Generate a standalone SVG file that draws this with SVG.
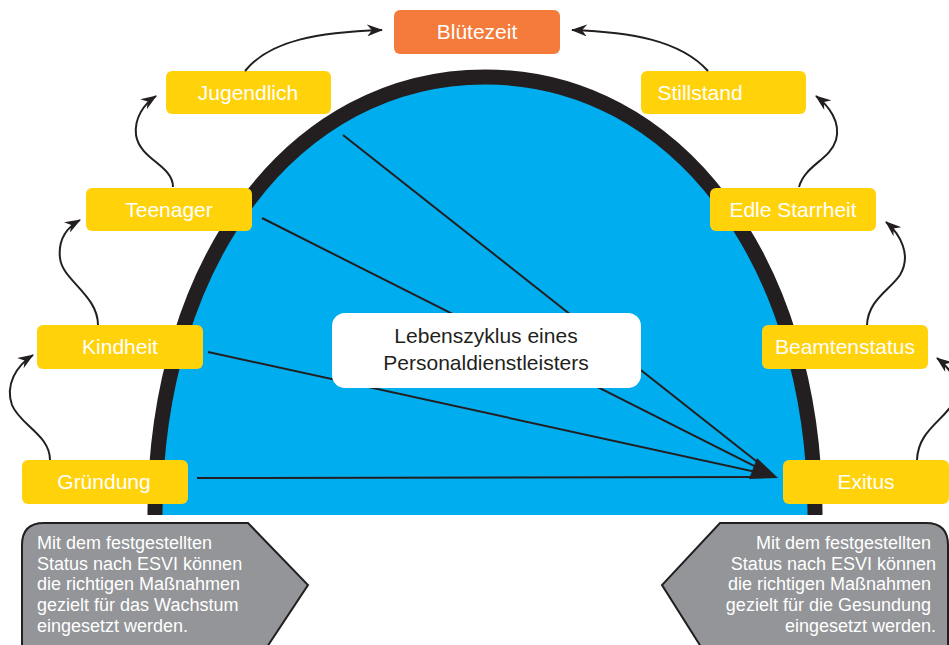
<svg xmlns="http://www.w3.org/2000/svg" width="949" height="645" viewBox="0 0 949 645">
<style>
.node rect{fill:#ffd20a}
.node text{fill:#ffffff;font-family:"Liberation Sans",Arial,sans-serif;font-size:21px;text-anchor:middle}
.conn{fill:none;stroke:#231f20;stroke-width:2}
.ray{stroke:#231f20;stroke-width:2}
.callout path{fill:#939598;stroke:#231f20;stroke-width:2}
.callout text{fill:#ffffff;font-family:"Liberation Sans",Arial,sans-serif;font-size:18px}
.center text{fill:#231f20;font-family:"Liberation Sans",Arial,sans-serif;font-size:21px;text-anchor:middle}
</style>
<defs>
<marker id="ah" viewBox="0 0 16 12" refX="15" refY="6" markerWidth="16" markerHeight="12" markerUnits="userSpaceOnUse" orient="auto">
<path d="M0,0 L16,6 L0,12 L5,6 Z" fill="#231f20"/>
</marker>
</defs>
<rect width="949" height="645" fill="#ffffff"/>
<g id="dome">
<path d="M155,515 C155,261 294,77 485,77 C676,77 815,261 815,515 Z" fill="#00aeef"/>
<path d="M155,515 C155,261 294,77 485,77 C676,77 815,261 815,515" fill="none" stroke="#231f20" stroke-width="15"/>
</g>
<g id="rays">
<line class="ray" x1="197" y1="478" x2="770" y2="477"/>
<line class="ray" x1="208" y1="352" x2="770" y2="475"/>
<line class="ray" x1="262" y1="218" x2="770" y2="474"/>
<line class="ray" x1="343" y1="135" x2="770" y2="472"/>
<polygon points="778,478 757,458 749,479" fill="#231f20"/>
</g>
<g id="center" class="center">
<rect x="332" y="313" width="309" height="75" rx="13" fill="#ffffff"/>
<text x="486" y="343">Lebenszyklus eines</text>
<text x="486" y="370">Personaldienstleisters</text>
</g>
<g id="n-bluetezeit" class="node"><rect x="394" y="10" width="166" height="44" rx="6" style="fill:#f47b3b"/><text x="477" y="39">Blütezeit</text></g>
<g id="n-jugendlich" class="node"><rect x="166" y="71" width="165" height="43" rx="6"/><text x="248" y="100">Jugendlich</text></g>
<g id="n-stillstand" class="node"><rect x="641" y="71" width="165" height="43" rx="6"/><text x="700" y="100" style="text-anchor:middle">Stillstand</text></g>
<g id="n-teenager" class="node"><rect x="86" y="188" width="166" height="43" rx="6"/><text x="169" y="217">Teenager</text></g>
<g id="n-edle" class="node"><rect x="710" y="188" width="166" height="43" rx="6"/><text x="793" y="217">Edle Starrheit</text></g>
<g id="n-kindheit" class="node"><rect x="37" y="325" width="166" height="44" rx="6"/><text x="120" y="354">Kindheit</text></g>
<g id="n-beamten" class="node"><rect x="762" y="325" width="166" height="44" rx="6"/><text x="845" y="354">Beamtenstatus</text></g>
<g id="n-gruendung" class="node"><rect x="22" y="460" width="166" height="44" rx="6"/><text x="104" y="489">Gründung</text></g>
<g id="n-exitus" class="node"><rect x="783" y="460" width="166" height="44" rx="6"/><text x="866" y="489">Exitus</text></g>
<g id="callout-left" class="callout">
<path d="M22,545 Q22,523 44,523 L248,523 L308,585 L265,650 L22,650 Z"/>
<text x="37" y="549">Mit dem festgestellten</text>
<text x="37" y="570">Status nach ESVI können</text>
<text x="37" y="590">die richtigen Maßnahmen</text>
<text x="37" y="611">gezielt für das Wachstum</text>
<text x="37" y="632">eingesetzt werden.</text>
</g>
<g id="callout-right" class="callout">
<path d="M948,545 Q948,523 926,523 L720,523 L662,585 L703,650 L948,650 Z"/>
<text x="931" y="549" text-anchor="end">Mit dem festgestellten</text>
<text x="936" y="570" text-anchor="end">Status nach ESVI können</text>
<text x="931" y="590" text-anchor="end">die richtigen Maßnahmen</text>
<text x="931" y="611" text-anchor="end">gezielt für die Gesundung</text>
<text x="936" y="632" text-anchor="end">eingesetzt werden.</text>
</g>
<g id="connectors">
<path class="conn" marker-end="url(#ah)" d="M50,460 C50,435 20,425 12,405 C5,385 16,366 33,355"/>
<path class="conn" marker-end="url(#ah)" d="M98,325 C98,295 62,280 60,258 C58,240 66,228 80,220"/>
<path class="conn" marker-end="url(#ah)" d="M173,187 C173,165 140,160 136,135 C134,118 144,104 156,96"/>
<path class="conn" marker-end="url(#ah)" d="M245,71 C270,40 320,32 382,30"/>
<path class="conn" marker-end="url(#ah)" d="M708,71 C680,40 630,32 572,30"/>
<path class="conn" marker-end="url(#ah)" d="M799,187 C805,165 830,160 836,140 C841,122 829,106 816,96"/>
<path class="conn" marker-end="url(#ah)" d="M867,325 C868,300 890,290 900,275 C912,255 900,234 886,222"/>
<path class="conn" marker-end="url(#ah)" d="M917,460 C918,430 945,420 955,400 C962,385 950,368 937,358"/>
</g>
</svg>
